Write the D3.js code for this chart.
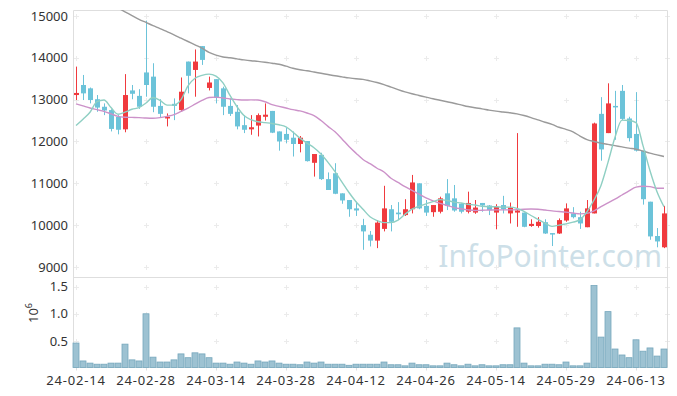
<!DOCTYPE html>
<html>
<head>
<meta charset="utf-8">
<script src="https://cdn.jsdelivr.net/npm/d3@7"></script>
<style>
  body { margin: 0; background: #fff; }
  text { font-family: "Noto Sans", sans-serif; }
</style>
</head>
<body>
<div id="chart"></div>
<script>
const dates = [
  "2024-02-14","2024-02-15","2024-02-16","2024-02-19","2024-02-20","2024-02-21","2024-02-22","2024-02-23","2024-02-26","2024-02-27",
  "2024-02-28","2024-02-29","2024-03-04","2024-03-05","2024-03-06","2024-03-07","2024-03-08","2024-03-11","2024-03-12","2024-03-13",
  "2024-03-14","2024-03-15","2024-03-18","2024-03-19","2024-03-20","2024-03-21","2024-03-22","2024-03-25","2024-03-26","2024-03-27",
  "2024-03-28","2024-03-29","2024-04-01","2024-04-02","2024-04-03","2024-04-04","2024-04-05","2024-04-08","2024-04-09","2024-04-11",
  "2024-04-12","2024-04-15","2024-04-16","2024-04-17","2024-04-18","2024-04-19","2024-04-22","2024-04-23","2024-04-24","2024-04-25",
  "2024-04-26","2024-04-29","2024-04-30","2024-05-02","2024-05-03","2024-05-07","2024-05-08","2024-05-09","2024-05-10","2024-05-13",
  "2024-05-14","2024-05-16","2024-05-17","2024-05-20","2024-05-21","2024-05-22","2024-05-23","2024-05-24","2024-05-27","2024-05-28",
  "2024-05-29","2024-05-30","2024-05-31","2024-06-03","2024-06-04","2024-06-05","2024-06-07","2024-06-10","2024-06-11","2024-06-12",
  "2024-06-13","2024-06-14","2024-06-17","2024-06-18","2024-06-19"
];

const openP = [
  13110,13350,13270,13010,12830,12750,12590,12290,13220,13090,
  13650,13550,12850,12550,12900,12750,13910,13710,14280,13280,
  13490,13270,12850,12710,12390,12290,12380,12590,12730,12240,
  12180,12090,11940,12010,11490,11680,11100,11240,10760,10600,
  10400,10000,9770,9630,9910,10380,10300,10240,10380,11000,
  10460,10310,10320,10760,10640,10510,10320,10300,10530,10470,
  10300,10480,10280,10300,10300,9980,9980,10070,9810,9800,
  10110,10280,10190,9950,10280,12660,12200,12850,13210,12550,
  12180,11780,10560,9740,9470
];
const highP = [
  13790,13590,13290,13110,12910,12770,12630,13610,13350,13250,
  14890,13870,13010,12670,13030,13530,13910,14200,14280,13550,
  13490,13310,13030,12870,12630,12630,12670,12910,12730,12240,
  12320,12240,12130,12010,11700,11730,11260,11480,10760,10600,
  10560,10150,9860,10120,10940,10480,10550,10620,11200,11000,
  10600,10480,10680,11100,10960,10520,10800,10600,10530,10480,
  10500,10700,10540,12200,10300,10140,10190,10140,9810,10160,
  10520,10430,10320,10600,12450,13060,13390,13210,13350,12590,
  13180,11780,10560,9930,10460
];
const lowP = [
  12990,12990,12910,12710,12630,12240,12170,12220,13010,12780,
  13070,12700,12580,12360,12510,12710,13150,13070,13830,13220,
  12910,12630,12610,12290,12200,12160,12120,12500,12200,11780,
  11960,11640,11740,11520,11160,11080,10840,10740,10510,10200,
  10220,9410,9490,9450,9850,9850,10120,10220,10280,10380,
  10220,10200,10280,10360,10320,10280,10280,10270,10320,10240,
  9900,10280,10040,9960,9950,9960,9940,9790,9500,9790,
  10080,10160,9910,9950,10280,11540,12200,12040,12510,12000,
  11760,10490,9650,9470,9450
];
const closeP = [
  13160,13150,12990,12810,12740,12300,12280,13110,13140,12830,
  13350,12830,12660,12590,12850,13190,13570,13910,13950,13410,
  13040,12830,12660,12360,12280,12340,12630,12640,12210,12000,
  12040,11940,12090,11530,11700,11100,10840,10750,10590,10380,
  10350,9850,9630,10060,10400,10080,10260,10380,11020,10400,
  10300,10480,10640,10460,10350,10320,10530,10420,10470,10360,
  10440,10380,10420,10350,9960,10030,10080,9800,9790,10120,
  10400,10190,10040,10400,12430,11810,12910,12820,12540,12080,
  11780,10620,9730,9610,10280
];
const volume = [
  460000,130000,90000,70000,70000,90000,90000,440000,150000,130000,
  1000000,200000,110000,110000,150000,260000,190000,280000,260000,190000,
  90000,90000,70000,110000,90000,70000,130000,110000,130000,90000,
  70000,70000,60000,110000,90000,110000,70000,70000,70000,50000,
  70000,70000,70000,70000,110000,60000,60000,40000,90000,60000,
  60000,40000,40000,90000,60000,40000,70000,40000,60000,40000,
  40000,60000,60000,740000,90000,40000,40000,70000,70000,60000,
  110000,40000,40000,90000,1520000,570000,1040000,350000,240000,190000,
  520000,310000,370000,220000,350000
];
const ma5 = [
  12380,12530,12700,12950,12990,12810,12650,12700,12770,12810,
  12920,13050,12980,12870,12870,13000,13330,13510,13580,13610,
  13560,13400,13100,12830,12620,12520,12470,12450,12430,12400,
  12350,12220,12080,11960,11850,11700,11500,11280,11030,10780,
  10560,10380,10200,10110,10060,10060,10120,10260,10380,10450,
  10510,10560,10610,10590,10550,10530,10500,10480,10450,10440,
  10440,10430,10430,10400,10330,10230,10140,10050,9970,10000,
  10030,10070,10130,10320,10600,10950,11500,12100,12510,12500,
  12450,11900,11300,10800,10440
];
const ma20 = [
  12900,12850,12800,12760,12720,12660,12600,12580,12575,12570,
  12560,12555,12570,12600,12640,12720,12800,12890,12980,13050,
  13060,13040,13016,13000,12990,12995,12990,12950,12880,12840,
  12800,12760,12730,12680,12620,12500,12360,12230,12060,11880,
  11720,11570,11470,11360,11270,11120,11020,10920,10830,10740,
  10650,10580,10520,10470,10420,10390,10365,10350,10355,10360,
  10365,10365,10365,10370,10380,10385,10380,10360,10340,10325,
  10310,10290,10270,10280,10340,10440,10530,10620,10720,10820,
  10910,10930,10920,10880,10880
];
const ma60 = [
  null,null,null,null,null,15280,15190,15100,15010,14920,
  14845,14770,14700,14625,14550,14470,14390,14310,14230,14130,
  14065,14020,14000,13975,13950,13930,13915,13895,13870,13845,
  13800,13750,13715,13690,13660,13630,13600,13570,13545,13520,
  13500,13485,13450,13410,13360,13300,13240,13185,13140,13100,
  13060,13020,12985,12950,12915,12875,12835,12805,12780,12750,
  12725,12705,12685,12660,12620,12570,12515,12460,12410,12340,
  12290,12230,12130,12045,12000,11960,11930,11900,11870,11840,
  11815,11770,11720,11680,11640
];
const priceTicks = [9000, 10000, 11000, 12000, 13000, 14000, 15000];
const volumeTicks = [500000, 1000000, 1500000];
const xTicks = ["2024-02-14","2024-02-28","2024-03-14","2024-03-28","2024-04-12",
                "2024-04-26","2024-05-14","2024-05-29","2024-06-13"];

const width = 677, height = 396;
const left = 72.5, right = 667.5;
const priceTop = 10, priceBottom = 278, volTop = 278, volBottom = 367.5;

const svg = d3.select('#chart').append('svg')
  .attr('width', width).attr('height', height);

const x = d3.scaleBand().domain(dates).range([left, right]).padding(0);
const cx = d => x(d) + x.bandwidth() / 2;
const yP = d3.scaleLinear().domain([8736, 15143]).range([priceBottom, priceTop]);
const yV = d3.scaleLinear().domain([0, 1660000]).range([368, volTop]);

svg.append('clipPath').attr('id', 'clipP')
  .append('rect').attr('x', left).attr('y', priceTop).attr('width', right - left).attr('height', priceBottom - priceTop);

// grid crosses
const gridX = xTicks.map(cx).concat([667]);
const cross = svg.append('g').attr('stroke', '#ebebeb').attr('stroke-width', 1);
function crossAt(px, py) {
  cross.append('path').attr('d', `M${px - 2.5},${py}H${px + 2.5}M${px},${py - 2.5}V${py + 2.5}`);
}
gridX.forEach(gx => {
  priceTicks.forEach(t => crossAt(Math.round(gx) + 0.5, Math.round(yP(t)) + 0.5));
  volumeTicks.forEach(t => crossAt(Math.round(gx) + 0.5, Math.round(yV(t)) + 0.5));
});

// frame
const frame = svg.append('g').attr('stroke', '#dedede').attr('fill', 'none');
frame.append('path').attr('d', `M73.5,${priceTop + 0.5}H667.5V${volBottom}`);
frame.append('path').attr('d', `M73.5,${priceTop + 0.5}V${volBottom}H667.5`);
frame.append('path').attr('d', `M73.5,${priceBottom - 0.5}H667.5`);
xTicks.forEach(t => frame.append('path').attr('d', `M${Math.round(cx(t)) + 0.5},${volBottom}v3`));

// watermark
svg.append('text')
  .attr('x', 662).attr('y', 267)
  .attr('text-anchor', 'end')
  .attr('font-size', 30)
  .attr('fill', '#cddfe8')
  .text('InfoPointer.com');

// candles
const candles = svg.append('g').attr('clip-path', 'url(#clipP)');
const up = '#f03a3e', down = '#6cc3d9';
const idx = d3.range(dates.length);
candles.selectAll('line').data(idx).join('line')
  .attr('x1', i => Math.round(cx(dates[i])) + 0.5)
  .attr('x2', i => Math.round(cx(dates[i])) + 0.5)
  .attr('y1', i => yP(highP[i]))
  .attr('y2', i => yP(lowP[i]))
  .attr('stroke', i => closeP[i] >= openP[i] ? up : down)
  .attr('stroke-width', 1);
candles.selectAll('rect').data(idx).join('rect')
  .attr('x', i => Math.round(cx(dates[i])) - 2)
  .attr('width', 5)
  .attr('y', i => yP(Math.max(openP[i], closeP[i])))
  .attr('height', i => Math.max(1.5, Math.abs(yP(openP[i]) - yP(closeP[i]))))
  .attr('fill', i => closeP[i] >= openP[i] ? up : down);

// moving averages
const maLine = arr => d3.line()
  .defined(i => arr[i] != null)
  .x(i => cx(dates[i]))
  .y(i => yP(arr[i]))
  .curve(d3.curveMonotoneX)(idx);
const mas = svg.append('g').attr('clip-path', 'url(#clipP)').attr('fill', 'none').attr('stroke-width', 1.4);
mas.append('path').attr('d', maLine(ma60)).attr('stroke', '#9a9a9a');
mas.append('path').attr('d', maLine(ma20)).attr('stroke', '#cc92c9');
mas.append('path').attr('d', maLine(ma5)).attr('stroke', '#8fcfc3');

// volume bars
svg.append('g').selectAll('rect').data(idx).join('rect')
  .attr('x', i => x(dates[i]) + 0.5)
  .attr('width', x.bandwidth() - 1)
  .attr('y', i => yV(volume[i]))
  .attr('height', i => volBottom - yV(volume[i]))
  .attr('fill', '#9dc2d2')
  .attr('stroke', '#76a7bc')
  .attr('stroke-width', 0.8);

// axes
const axisStyle = g => {
  g.select('.domain').remove();
  g.selectAll('line').remove();
  g.selectAll('text').attr('fill', '#333').attr('font-size', 13)
    .style('font-family', '"Noto Sans", sans-serif');
};
svg.append('g').attr('transform', 'translate(68,0)')
  .call(d3.axisLeft(yP).tickValues(priceTicks).tickSize(0).tickPadding(0).tickFormat(d3.format('d')))
  .call(axisStyle);
svg.append('g').attr('transform', 'translate(68,0)')
  .call(d3.axisLeft(yV).tickValues(volumeTicks).tickSize(0).tickPadding(0).tickFormat(d => (d / 1e6).toFixed(1)))
  .call(axisStyle);
svg.append('g').attr('transform', `translate(0,${volBottom + 3})`)
  .call(d3.axisBottom(x).tickValues(xTicks).tickSize(0).tickPadding(5).tickFormat(d => d.slice(2)))
  .call(axisStyle)
  .selectAll('text').attr('letter-spacing', 0.8);

// volume unit label
const unit = svg.append('text')
  .attr('transform', 'translate(38,323) rotate(-90)')
  .attr('fill', '#333').attr('font-size', 13);
unit.append('tspan').text('10');
unit.append('tspan').attr('dy', -6).attr('font-size', 9).text('6');
</script>
</body>
</html>
